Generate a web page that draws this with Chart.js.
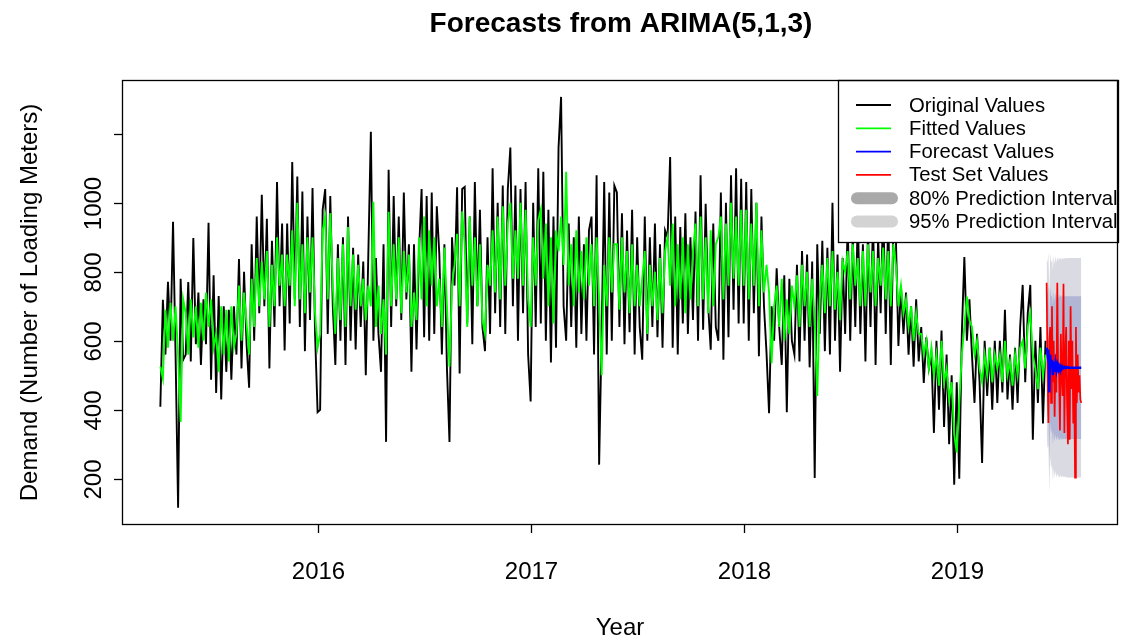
<!DOCTYPE html>
<html>
<head>
<meta charset="utf-8">
<script src="https://cdn.jsdelivr.net/npm/chart.js@4/dist/chart.umd.min.js"></script>
<style>
  html, body { margin: 0; padding: 0; background: #ffffff; }
  #wrap { width: 1124px; height: 642px; }
</style>
</head>
<body>
<div id="wrap"><canvas id="c" width="1124" height="642"></canvas></div>
<script>
// Daily loading-meter demand (sampled), fitted ARIMA values, test set and forecast
const seriesStart = 2015.26;
const seriesFreq = 84;

const original = [
  409, 719, 560, 771, 600, 945, 560, 116, 780, 545,
  560, 770, 540, 898, 590, 740, 530, 720, 590, 942,
  487, 790, 449, 730, 430, 700, 510, 690, 487, 700,
  560, 837, 520, 800, 590, 464, 880, 600, 960, 680,
  1023, 700, 954, 520, 890, 640, 1060, 700, 940, 572,
  940, 650, 1118, 720, 1076, 640, 1033, 570, 960, 660,
  1043, 620, 393, 400, 980, 1040, 620, 1020, 700, 530,
  880, 600, 900, 530, 960, 600, 870, 575, 850, 640,
  830, 500, 850, 1206, 600, 840, 620, 510, 880, 307,
  1096, 640, 1020, 700, 960, 660, 1030, 720, 880, 510,
  880, 575, 860, 1040, 610, 1020, 600, 1030, 620, 990,
  850, 560, 880, 520, 307, 900, 760, 1045, 505, 1040,
  1046, 650, 960, 590, 1060, 700, 980, 640, 570, 900,
  620, 1100, 680, 1000, 640, 1050, 620, 1040, 1160, 700,
  1050, 600, 1040, 680, 1060, 560, 424, 1000, 640, 1100,
  650, 1090, 600, 980, 537, 960, 580, 1160, 1307, 700,
  600, 940, 640, 900, 580, 960, 620, 880, 600, 920,
  960, 560, 1080, 241, 620, 1060, 560, 1030, 600, 1050,
  1030, 640, 970, 590, 920, 625, 980, 560, 900, 640,
  545, 960, 600, 900, 640, 940, 610, 880, 580, 920,
  900, 1133, 580, 960, 560, 930, 650, 970, 620, 900,
  660, 975, 600, 1080, 632, 997, 700, 574, 940, 640,
  600, 1030, 545, 1000, 610, 1080, 690, 1100, 650, 1070,
  650, 1060, 600, 1040, 680, 1000, 555, 960, 700, 565,
  390, 700, 600, 810, 640, 530, 790, 393, 780, 600,
  560, 820, 540, 860, 600, 850, 523, 830, 202, 880,
  620, 890, 570, 870, 560, 1000, 600, 850, 510, 840,
  620, 940, 600, 900, 640, 960, 620, 880, 540, 920,
  640, 950, 530, 900, 680, 1000, 620, 960, 530, 920,
  900, 585, 760, 620, 740, 560, 700, 525, 720, 540,
  640, 478, 610, 520, 560, 333, 600, 400, 630, 350,
  560, 300, 500, 183, 480, 200, 620, 843, 600, 720,
  560, 420, 620, 480, 246, 600, 440, 580, 400, 600,
  420, 600, 450, 690, 430, 560, 400, 580, 420, 640,
  762, 480, 680, 762, 313, 600, 420, 640, 360, 600
];

const fitted = [
  525, 490, 690, 580, 710, 600, 700, 560, 365, 720,
  680, 560, 720, 610, 700, 580, 710, 600, 740, 640,
  720, 580, 620, 510, 700, 560, 690, 540, 700, 580,
  620, 760, 600, 740, 650, 560, 780, 640, 840, 700,
  830, 720, 860, 640, 820, 700, 900, 760, 850, 700,
  850, 760, 920, 700, 1000, 720, 880, 680, 900, 740,
  900, 680, 580, 620, 920, 960, 720, 970, 760, 620,
  840, 660, 880, 640, 930, 700, 850, 690, 820, 700,
  780, 660, 760, 700, 1003, 640, 760, 620, 720, 560,
  974, 700, 880, 720, 900, 680, 860, 740, 850, 640,
  740, 660, 900, 720, 960, 700, 920, 760, 900, 700,
  780, 640, 870, 700, 525, 760, 820, 910, 700, 975,
  880, 640, 960, 760, 900, 700, 880, 660, 620, 820,
  760, 920, 740, 960, 720, 990, 760, 940, 1000, 780,
  920, 780, 1000, 760, 980, 720, 640, 900, 760, 950,
  980, 780, 940, 700, 900, 650, 920, 860, 960, 820,
  1090, 760, 880, 700, 920, 740, 860, 720, 900, 760,
  880, 700, 900, 720, 500, 820, 700, 900, 740, 880,
  880, 690, 900, 740, 860, 680, 880, 700, 820, 700,
  780, 860, 620, 820, 700, 800, 660, 840, 680, 860,
  900, 760, 940, 700, 880, 720, 900, 680, 880, 720,
  860, 940, 700, 960, 720, 900, 680, 920, 700, 880,
  900, 960, 720, 940, 760, 1000, 780, 960, 760, 980,
  760, 980, 720, 940, 760, 1000, 700, 920, 740, 820,
  740, 535, 700, 760, 640, 780, 600, 720, 620, 760,
  700, 790, 640, 820, 700, 800, 640, 780, 660, 440,
  720, 820, 680, 840, 700, 860, 690, 800, 660, 830,
  800, 860, 720, 880, 760, 840, 700, 860, 700, 880,
  740, 860, 700, 840, 760, 870, 720, 860, 700, 880,
  820, 700, 760, 680, 720, 640, 700, 600, 680, 620,
  620, 560, 600, 520, 580, 500, 560, 470, 600, 480,
  520, 430, 480, 330, 276, 420, 560, 640, 728, 660,
  640, 560, 600, 520, 480, 560, 500, 580, 480, 560,
  520, 560, 480, 600, 500, 540, 470, 560, 500, 580,
  600, 520, 640, 680, 560, 520, 460, 580, 500, 560
];

const testStart = 2019.42;
const testFreq = 240;

const testSet = [
  768, 520, 362, 600, 640, 420, 700, 480, 600, 380,
  560, 450, 768, 520, 500, 340, 620, 500, 440, 765,
  333, 560, 640, 420, 300, 600, 313, 700, 460, 600,
  360, 520, 203, 640, 420, 560, 450, 500, 430, 420
];

const forecastMean = [
  580, 560, 575, 450, 560, 530, 545, 500, 540, 510,
  535, 515, 530, 518, 528, 520, 526, 519, 525, 521,
  524, 521, 523, 522, 523, 522, 522, 522, 522, 522,
  522, 522, 522, 522, 522, 522, 522, 522, 522, 522
];

const lower80 = [
  415, 382, 389, 258, 364, 331, 344, 298, 337, 306,
  330, 310, 324, 312, 322, 313, 319, 312, 318, 314,
  317, 314, 316, 315, 315, 315, 315, 315, 315, 315,
  315, 315, 315, 315, 315, 315, 315, 315, 315, 315
];
const upper80 = [
  745, 738, 761, 642, 756, 729, 746, 702, 743, 714,
  740, 720, 736, 724, 734, 727, 733, 726, 732, 728,
  731, 728, 730, 729, 729, 729, 729, 729, 729, 729,
  729, 729, 729, 729, 729, 729, 729, 729, 729, 729
];
const lower95 = [
  330, 290, 295, 160, 264, 230, 242, 194, 232, 200,
  224, 203, 217, 204, 214, 205, 211, 203, 209, 205,
  207, 204, 206, 205, 204, 204, 204, 204, 204, 204,
  204, 204, 204, 204, 204, 204, 204, 204, 204, 204
];
const upper95 = [
  830, 830, 855, 740, 856, 830, 848, 806, 848, 820,
  846, 827, 843, 832, 842, 835, 841, 835, 841, 837,
  841, 838, 840, 839, 840, 840, 840, 840, 840, 840,
  840, 840, 840, 840, 840, 840, 840, 840, 840, 840
];

const xTicks = [2016, 2017, 2018, 2019];
const yTicks = [200, 400, 600, 800, 1000, 1200];
const yTickLabels = ['200', '400', '600', '800', '1000', ''];

const titleText = 'Forecasts from ARIMA(5,1,3)';
const xTitle = 'Year';
const yTitle = 'Demand (Number of Loading Meters)';

const legendItems = [
  { label: 'Original Values', color: '#000000', kind: 'line' },
  { label: 'Fitted Values', color: '#00ff00', kind: 'line' },
  { label: 'Forecast Values', color: '#0000ff', kind: 'line' },
  { label: 'Test Set Values', color: '#ff0000', kind: 'line' },
  { label: '80% Prediction Interval', color: '#a9a9a9', kind: 'band' },
  { label: '95% Prediction Interval', color: '#d3d3d3', kind: 'band' }
];

const toPoints = (vals, start, freq) => vals.map((v, i) => ({ x: start + i / freq, y: v }));

const FONT = '"Liberation Sans", Arial, Helvetica, sans-serif';

const rFrame = {
  id: 'rFrame',
  afterDraw(chart) {
    const { ctx, chartArea: a, scales } = chart;
    const xs = scales.x, ys = scales.y;
    ctx.save();
    ctx.strokeStyle = '#000';
    ctx.fillStyle = '#000';

    // axes ticks and labels
    ctx.lineWidth = 1.3;
    ctx.font = '24px ' + FONT;
    ctx.textAlign = 'center';
    ctx.textBaseline = 'middle';
    xTicks.forEach(t => {
      const px = Math.round(xs.getPixelForValue(t)) + 0.5;
      ctx.beginPath();
      ctx.moveTo(px, a.bottom);
      ctx.lineTo(px, a.bottom + 8);
      ctx.stroke();
      ctx.fillText(String(t), px, 572);
    });
    yTicks.forEach((t, i) => {
      const py = Math.round(ys.getPixelForValue(t)) + 0.5;
      ctx.beginPath();
      ctx.moveTo(a.left - 8, py);
      ctx.lineTo(a.left, py);
      ctx.stroke();
      if (yTickLabels[i]) {
        ctx.save();
        ctx.translate(94, py);
        ctx.rotate(-Math.PI / 2);
        ctx.fillText(yTickLabels[i], 0, 0);
        ctx.restore();
      }
    });

    // axis titles
    ctx.fillText(xTitle, (a.left + a.right) / 2, 628);
    ctx.save();
    ctx.translate(30, (a.top + a.bottom) / 2);
    ctx.rotate(-Math.PI / 2);
    ctx.fillText(yTitle, 0, 0);
    ctx.restore();

    // main title
    ctx.font = 'bold 28px ' + FONT;
    ctx.fillText(titleText, (a.left + a.right) / 2 + 1, 24);

    // legend box (top right, over the data)
    const lx = 838.5, ly = a.top + 0.5, lw = a.right - 838, lh = 162;
    ctx.fillStyle = '#ffffff';
    ctx.fillRect(lx, ly, lw, lh);
    ctx.lineWidth = 1.3;
    ctx.strokeRect(lx, ly, lw, lh);
    ctx.font = '20.3px ' + FONT;
    ctx.textAlign = 'left';
    legendItems.forEach((it, i) => {
      const cy = 105 + i * 23.3;
      if (it.kind === 'line') {
        ctx.strokeStyle = it.color;
        ctx.lineWidth = 1.8;
        ctx.lineCap = 'butt';
        ctx.beginPath();
        ctx.moveTo(856, cy);
        ctx.lineTo(891, cy);
        ctx.stroke();
      } else {
        ctx.strokeStyle = it.color;
        ctx.lineWidth = 12;
        ctx.lineCap = 'round';
        ctx.beginPath();
        ctx.moveTo(857, cy);
        ctx.lineTo(892, cy);
        ctx.stroke();
      }
      ctx.fillStyle = '#000';
      ctx.fillText(it.label, 909, cy + 1);
    });

    // plot box
    ctx.strokeStyle = '#000';
    ctx.lineWidth = 1.3;
    ctx.lineCap = 'butt';
    ctx.strokeRect(a.left + 0.5, a.top + 0.5, a.right - a.left - 1, a.bottom - a.top - 1);
    ctx.restore();
  }
};

const lineDs = (label, data, color, width, order) => ({
  label, data, borderColor: color, borderWidth: width, pointRadius: 0,
  fill: false, tension: 0, order
});

new Chart(document.getElementById('c'), {
  type: 'line',
  data: {
    datasets: [
      { label: 'upper95', data: toPoints(upper95, testStart, testFreq), borderColor: 'rgba(0,0,0,0)', borderWidth: 0,
        pointRadius: 0, backgroundColor: '#dadae2', fill: '+1', order: 8 },
      { label: 'lower95', data: toPoints(lower95, testStart, testFreq), borderColor: 'rgba(0,0,0,0)', borderWidth: 0,
        pointRadius: 0, fill: false, order: 8 },
      { label: 'upper80', data: toPoints(upper80, testStart, testFreq), borderColor: 'rgba(0,0,0,0)', borderWidth: 0,
        pointRadius: 0, backgroundColor: '#b0b6d4', fill: '+1', order: 7 },
      { label: 'lower80', data: toPoints(lower80, testStart, testFreq), borderColor: 'rgba(0,0,0,0)', borderWidth: 0,
        pointRadius: 0, fill: false, order: 7 },
      lineDs('Original Values', toPoints(original, seriesStart, seriesFreq), '#000000', 1.9, 4),
      lineDs('Fitted Values', toPoints(fitted, seriesStart, seriesFreq), '#00ff00', 1.9, 3),
      lineDs('Test Set Values', toPoints(testSet, testStart, testFreq), '#ff0000', 1.7, 2),
      lineDs('Forecast Values', toPoints(forecastMean, testStart, testFreq), '#0000ff', 2.4, 1)
    ]
  },
  options: {
    responsive: false,
    animation: false,
    devicePixelRatio: 1,
    layout: { padding: { top: 80, right: 6, left: 0, bottom: 0 } },
    plugins: { legend: { display: false }, tooltip: { enabled: false }, title: { display: false } },
    scales: {
      x: {
        type: 'linear', min: 2015.08, max: 2019.755,
        ticks: { display: false }, grid: { display: false }, border: { display: false },
        afterFit: s => { s.height = 117; }
      },
      y: {
        type: 'linear', min: 66, max: 1356,
        ticks: { display: false }, grid: { display: false }, border: { display: false },
        afterFit: s => { s.width = 122; }
      }
    }
  },
  plugins: [rFrame]
});
</script>
</body>
</html>
